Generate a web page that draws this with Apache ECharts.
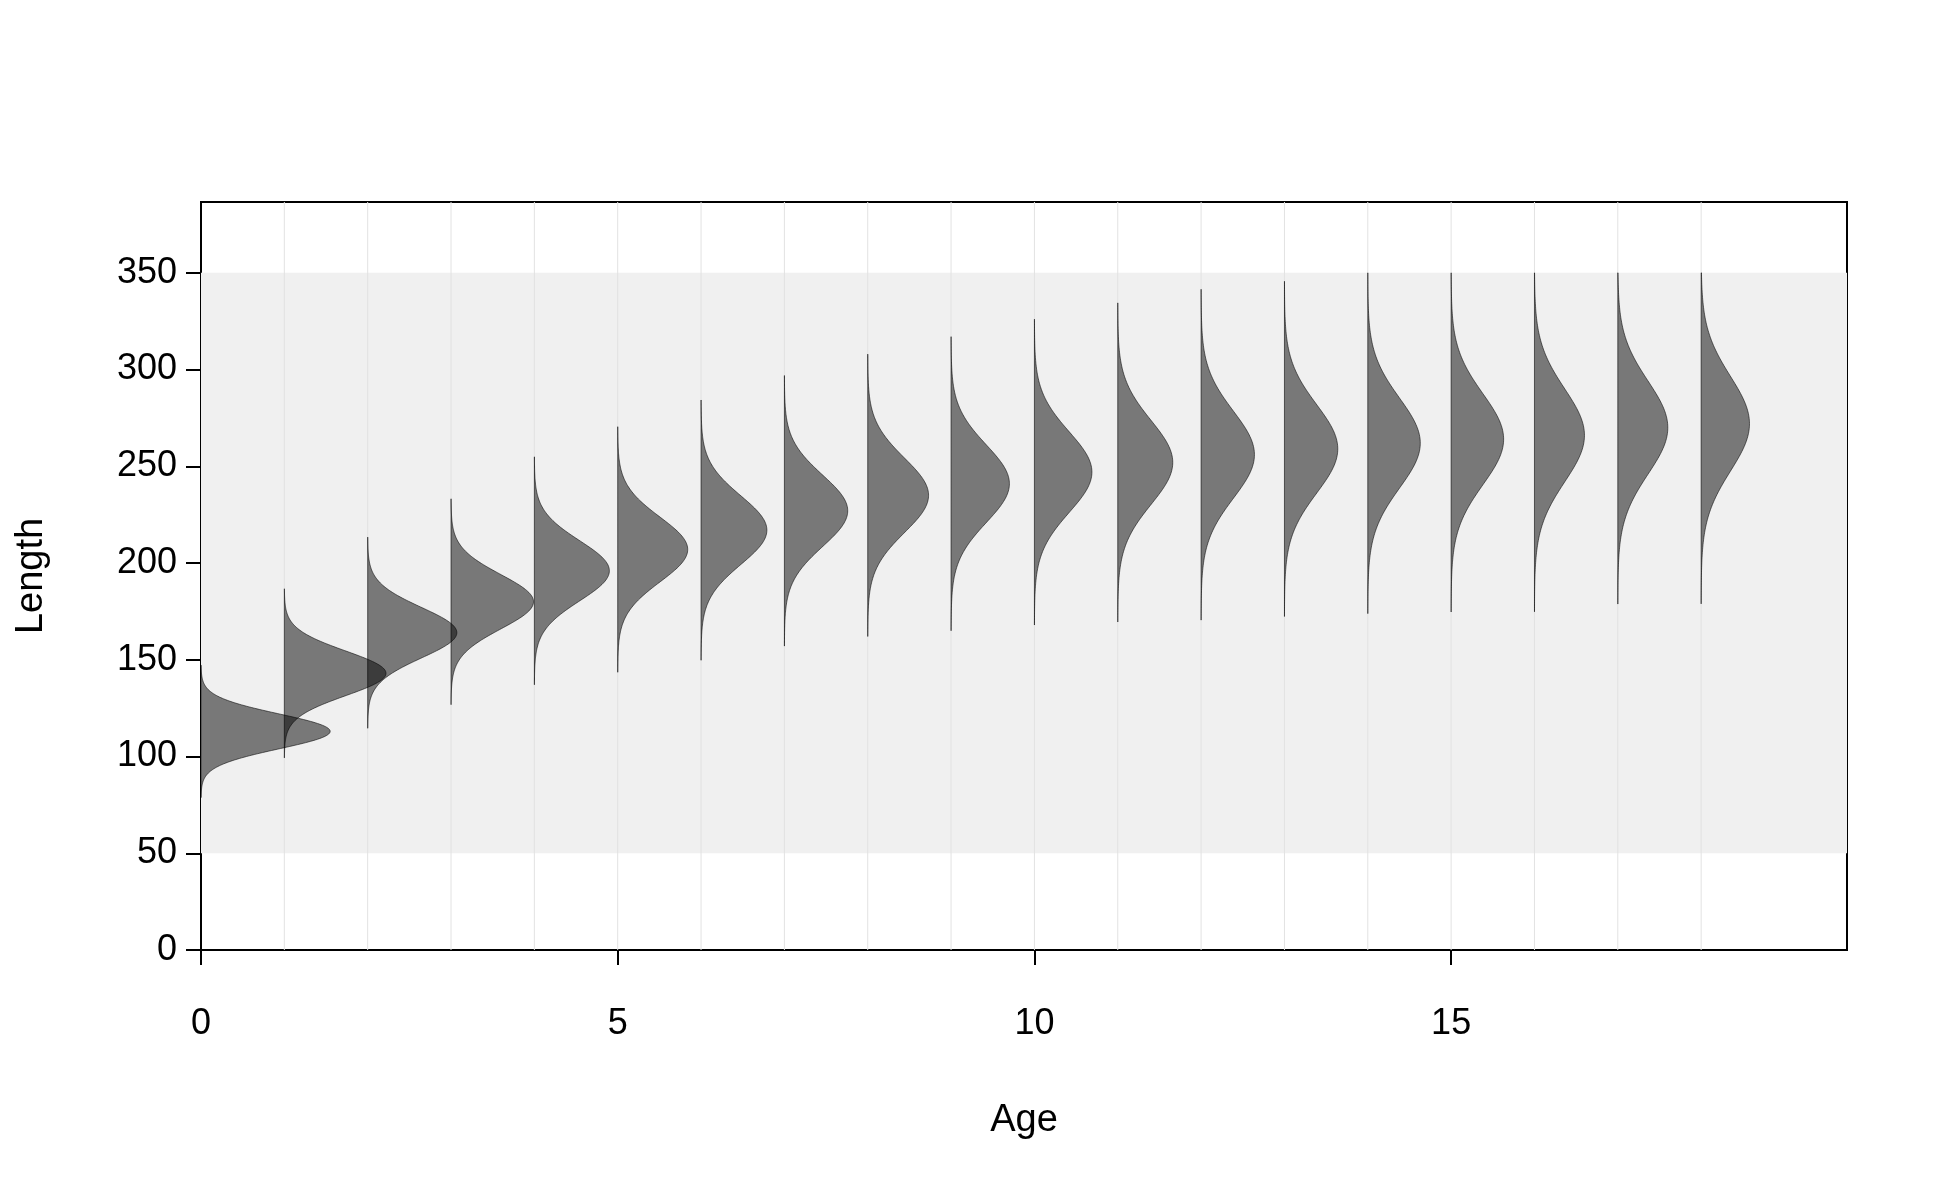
<!DOCTYPE html>
<html><head><meta charset="utf-8">
<script src="https://cdn.jsdelivr.net/npm/echarts@6/dist/echarts.min.js"></script>
<style>html,body{margin:0;background:#fff}#c{width:1950px;height:1200px}</style>
</head><body><div id="c"></div>
<script>
const ages = [0,1,2,3,4,5,6,7,8,9,10,11,12,13,14,15,16,17,18];
const meanLength = [113,143,164,180,196,207,217,227,235,241,247,252,256,259,262,264,266,270,272];
const peakWidth = [1.55,1.22,1.07,0.99,0.9,0.84,0.79,0.76,0.73,0.7,0.69,0.66,0.64,0.64,0.63,0.63,0.6,0.6,0.58];
const sdLength = [9,11.5,13,14,15.5,16.7,17.7,18.4,19.2,20,20.8,21.7,22.5,22.8,23.2,23.5,24,24,24.5];
const yTicks = [0,50,100,150,200,250,300,350];
const xTicks = [0,5,10,15];
const bandRange = [50,350];
const XMAX = 19.75, YMAX = 386.6;

const chart = echarts.init(document.getElementById('c'));
const font = {fontFamily:'Liberation Sans, Arial', color:'#000'};
chart.setOption({
  animation:false,
  grid:{left:201,right:103,top:202,bottom:250,show:true,borderColor:'#000',borderWidth:2,backgroundColor:'transparent'},
  xAxis:{type:'value',min:0,max:XMAX,interval:5,name:'Age',nameLocation:'middle',nameGap:152,
    nameTextStyle:{...font,fontSize:38},
    axisLine:{show:false},axisTick:{show:true,length:15,lineStyle:{color:'#000',width:2}},
    axisLabel:{...font,fontSize:36,margin:56,showMaxLabel:false},splitLine:{show:false}},
  yAxis:{type:'value',min:0,max:YMAX,interval:50,name:'Length',nameLocation:'middle',nameGap:150,
    nameTextStyle:{...font,fontSize:38},
    axisLine:{show:false},axisTick:{show:true,length:15,lineStyle:{color:'#000',width:2}},
    axisLabel:{...font,fontSize:36,margin:24,showMaxLabel:false},splitLine:{show:false}},
  series:[
    {type:'custom',z:1,data:[[0]],renderItem:(p,api)=>{
      const a=api.coord([0,bandRange[1]]), b=api.coord([XMAX,bandRange[0]]);
      return {type:'rect',shape:{x:a[0],y:a[1],width:b[0]-a[0],height:b[1]-a[1]},style:{fill:'#f0f0f0'}};
    }},
    {type:'custom',z:2,data:ages.slice(1).map(a=>[a]),renderItem:(p,api)=>{
      const a=api.coord([api.value(0),YMAX]), b=api.coord([api.value(0),0]);
      return {type:'line',shape:{x1:a[0],y1:a[1],x2:b[0],y2:b[1]},style:{stroke:'#e2e2e2',lineWidth:1}};
    }},
    {type:'custom',z:3,clip:true,data:ages.map((a,i)=>[a,meanLength[i],sdLength[i],peakWidth[i]]),
     renderItem:(p,api)=>{
      const a=api.value(0),m=api.value(1),s=api.value(2),w=api.value(3);
      const lo=Math.max(bandRange[0],m-3.8*s), hi=Math.min(bandRange[1],m+3.8*s);
      const pts=[api.coord([a,lo])];
      const n=200;
      for(let k=0;k<=n;k++){const y=lo+(hi-lo)*k/n;const z=(y-m)/s;pts.push(api.coord([a+w*Math.exp(-0.5*z*z),y]));}
      pts.push(api.coord([a,hi]));
      return {type:'polygon',shape:{points:pts},style:{fill:'rgba(0,0,0,0.5)',stroke:'rgba(0,0,0,0.55)',lineWidth:1}};
    }}
  ]
});
</script></body></html>
